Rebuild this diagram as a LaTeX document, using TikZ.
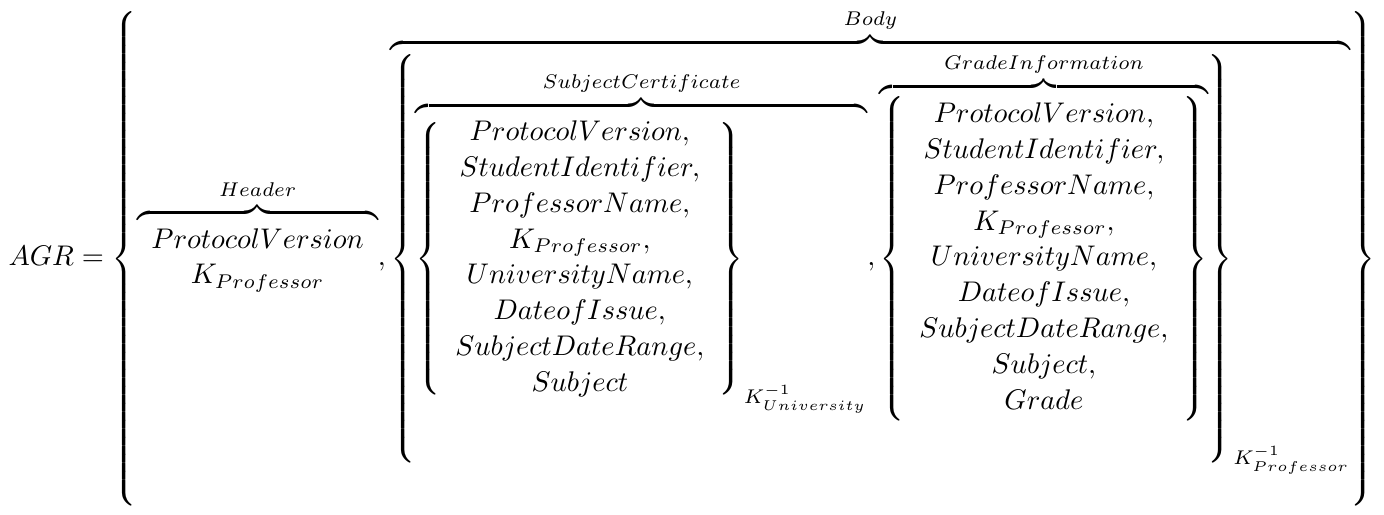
\documentclass[tikz,border=0pt]{standalone}
\usepackage{amsmath,amsfonts}

\begin{document}
\begin{tikzpicture}

    \renewcommand{\arraystretch}{1.05}
    \node[inner xsep=3pt, inner ysep=3pt] (agr) {$\displaystyle
    AGR = \left\{
      \overbrace{\begin{array}{c} ProtocolVersion \\ K_{Professor} \end{array}}^{Header},
      \overbrace{\left\{
        \overbrace{\left\{\begin{array}{c}
          ProtocolVersion, \\ StudentIdentifier, \\ ProfessorName, \\ K_{Professor}, \\
          UniversityName, \\ DateofIssue, \\ SubjectDateRange, \\ Subject
        \end{array}\right\}_{K^{-1}_{University}}}^{SubjectCertificate},
        \overbrace{\left\{\begin{array}{c}
          ProtocolVersion, \\ StudentIdentifier, \\ ProfessorName, \\ K_{Professor}, \\
          UniversityName, \\ DateofIssue, \\ SubjectDateRange, \\ Subject, \\ Grade
        \end{array}\right\}}^{GradeInformation}
      \right\}_{K^{-1}_{Professor}}}^{Body}
    \right\}$};

\end{tikzpicture}
\end{document}
